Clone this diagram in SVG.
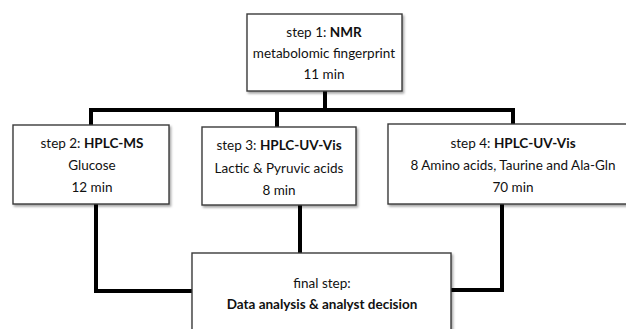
<svg xmlns="http://www.w3.org/2000/svg" width="626" height="329" viewBox="0 0 626 329">
<style>
.box{fill:#fff;stroke:#3a3a3a;stroke-width:1.4;filter:url(#sh)}
.t{font-family:Lato,"Open Sans","Liberation Sans",sans-serif;font-size:13.5px;fill:#111;text-anchor:middle}
.b{font-weight:bold}
.c{fill:none;stroke:#000;stroke-width:4;stroke-linejoin:miter;stroke-linecap:square}
</style>
<defs>
<filter id="sh" x="-10%" y="-10%" width="120%" height="130%">
<feDropShadow dx="1.5" dy="2" stdDeviation="1.2" flood-color="#000" flood-opacity="0.35"/>
</filter>
</defs>
<rect width="626" height="329" fill="#fff"/>
<g id="connectors">
<path class="c" d="M325 92V110"/>
<path class="c" d="M91 124V110H513V123"/>
<path class="c" d="M277 110V126"/>
<path class="c" d="M96 205V291H192"/>
<path class="c" d="M300 206V252"/>
<path class="c" d="M502 205V290H452"/>
</g>
<g id="step1">
<rect class="box" x="247" y="14" width="155" height="77"/>
<text class="t" x="324" y="37">step 1: <tspan class="b">NMR</tspan></text>
<text class="t" x="324" y="58">metabolomic fingerprint</text>
<text class="t" x="324" y="79">11 min</text>
</g>
<g id="step2">
<rect class="box" x="13" y="125" width="156" height="79"/>
<text class="t" x="92" y="148">step 2:  <tspan class="b">HPLC-MS</tspan></text>
<text class="t" x="92" y="170">Glucose</text>
<text class="t" x="92" y="192">12 min</text>
</g>
<g id="step3">
<rect class="box" x="202" y="127" width="154" height="78"/>
<text class="t" x="279" y="150">step 3: <tspan class="b">HPLC-UV-Vis</tspan></text>
<text class="t" x="279" y="173">Lactic &amp; Pyruvic acids</text>
<text class="t" x="279" y="195">8 min</text>
</g>
<g id="step4">
<rect class="box" x="388" y="124" width="250" height="80"/>
<text class="t" x="513" y="148">step 4: <tspan class="b">HPLC-UV-Vis</tspan></text>
<text class="t" x="513" y="170">8 Amino acids, Taurine and Ala-Gln</text>
<text class="t" x="513" y="192">70 min</text>
</g>
<g id="final">
<rect class="box" x="192" y="253" width="259" height="90"/>
<text class="t" x="322" y="288">final step:</text>
<text class="t b" x="322" y="309">Data analysis &amp; analyst decision</text>
</g>
</svg>
